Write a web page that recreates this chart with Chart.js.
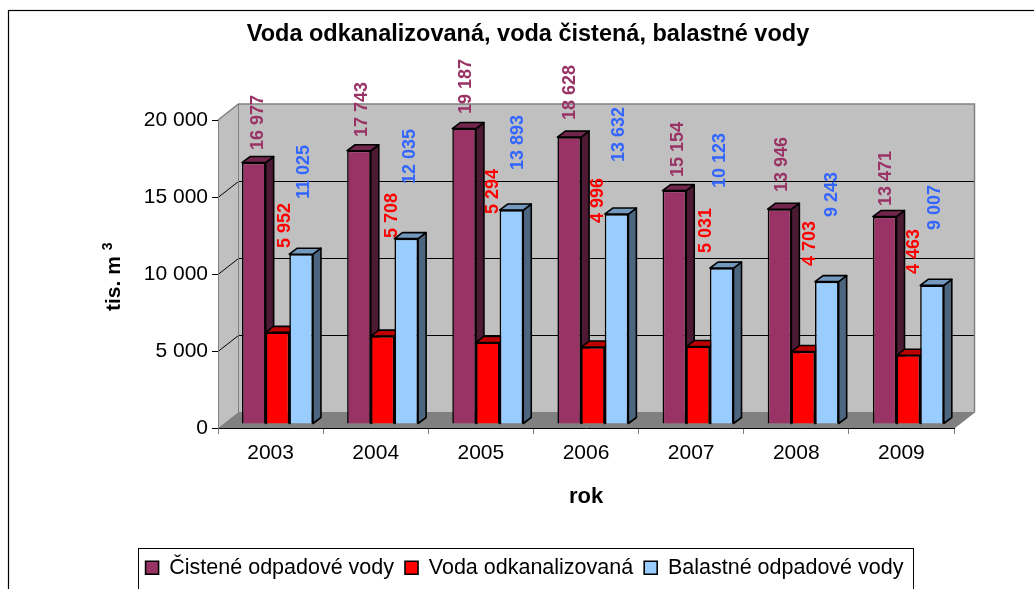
<!DOCTYPE html>
<html>
<head>
<meta charset="utf-8">
<script src="https://cdn.jsdelivr.net/npm/chart.js@4/dist/chart.umd.js"></script>
<style>html,body{margin:0;padding:0;background:#fff;overflow:hidden}canvas{display:block}</style>
</head>
<body>
<canvas id="c" width="1034" height="589"></canvas>
<script>
const categories = ['2003','2004','2005','2006','2007','2008','2009'];
const cisteneOdpadoveVody = [16977,17743,19187,18628,15154,13946,13471];
const vodaOdkanalizovana = [5952,5708,5294,4996,5031,4703,4463];
const balastneOdpadoveVody = [11025,12035,13893,13632,10123,9243,9007];
const seriesNames = ['Čistené odpadové vody','Voda odkanalizovaná','Balastné odpadové vody'];
const chartTitle = 'Voda odkanalizovaná, voda čistená, balastné vody';
const xTitle = 'rok';
const yTitle = 'tis. m';
const yTitleSup = '3';

// hand-placed data labels of the original: sideways shift and lift above the bar top
const labelShift = [
  [3.2,2,0.9,-0.3,2.6,1.5,0.3],
  [6.5,8.4,4.2,4.1,7,5.8,4.7],
  [1.9,2.7,5.6,1.5,-2.7,4.2,2]
];
const labelLift = [
  [12.6,13.8,14.5,17.1,13.6,17.2,10.5],
  [84.3,98.1,128.5,124.1,93.5,85.6,81.3],
  [55.2,54.7,40.1,52.1,80.1,64.7,55.3]
];

const FONT = '"Liberation Sans", Arial, sans-serif';
const fmt = v => String(v).replace(/\B(?=(\d{3})+$)/g, ' ');
const SHADES = [
  {side:'#4d1a33', top:'#73264d', label:'#993366'},
  {side:'#800000', top:'#bf0000', label:'#ff0000'},
  {side:'#4d6680', top:'#7399bf', label:'#3366ff'}
];
const WALL = {dx:20.5, dy:-16};
const BAR_OFF = {dx:6.9, dy:-4};
const DEPTH = {dx:8, dy:-6};
const BORDER = 1.6;

const threeD = {
  id:'threeD',
  afterLayout(chart){
    const t = chart.titleBlock; t.left = 22; t.right = 1034; t.top = 1;
    const l = chart.legend; l.left = 8; l.right = 1041; l.top = 546;
  },
  beforeDraw(chart){
    const c = chart.ctx;
    c.save();
    c.fillStyle = '#fff'; c.fillRect(0,0,1034,589);
    c.strokeStyle = '#000'; c.lineWidth = 1.2;
    c.strokeRect(8.5,10.5,1040,600);
    const y = chart.scales.y, x = chart.scales.x;
    const x0 = x.left, x1 = x.right, y0 = y.bottom, y1 = y.top;
    const {dx,dy} = WALL;
    // back wall
    c.fillStyle = '#c0c0c0';
    c.fillRect(x0+dx,y1+dy,x1-x0,y0-y1);
    // side wall
    c.beginPath(); c.moveTo(x0,y0); c.lineTo(x0,y1); c.lineTo(x0+dx,y1+dy); c.lineTo(x0+dx,y0+dy); c.closePath(); c.fill();
    // floor
    c.fillStyle = '#808080';
    c.beginPath(); c.moveTo(x0,y0); c.lineTo(x0+dx,y0+dy); c.lineTo(x1+dx,y0+dy); c.lineTo(x1,y0); c.closePath(); c.fill();
    // gridlines
    c.strokeStyle = '#000'; c.lineWidth = 1;
    y.ticks.forEach(t=>{
      if(t.value===0||t.value===y.max) return;
      const p = Math.round(y.getPixelForValue(t.value))+.5;
      c.beginPath(); c.moveTo(x0,p); c.lineTo(x0+dx,p+dy); c.lineTo(x1+dx,p+dy); c.stroke();
    });
    // wall outlines
    c.strokeStyle = '#808080'; c.lineWidth = 1.5;
    c.beginPath(); c.moveTo(x0,y1); c.lineTo(x0+dx,y1+dy); c.lineTo(x1+dx,y1+dy); c.lineTo(x1+dx,y0+dy); c.lineTo(x1,y0); c.stroke();
    c.lineWidth = 1;
    c.beginPath(); c.moveTo(x0+dx,y1+dy); c.lineTo(x0+dx,y0+dy); c.stroke();
    // legend box
    c.strokeStyle = '#000';
    c.strokeRect(138.5,548.5,775,60);
    c.restore();
  },
  beforeDatasetsDraw(chart){
    const c = chart.ctx;
    c.save();
    c.translate(BAR_OFF.dx,BAR_OFF.dy);
    // left to right within each cluster, so each front face covers the previous side face
    [0,1,2].forEach(i=>{
      const meta = chart.getDatasetMeta(i);
      meta.data.forEach(b=>{
        const p = b.getProps(['x','y','base','width'],true);
        const l = p.x-p.width/2, r = p.x+p.width/2;
        c.lineWidth = BORDER; c.strokeStyle = '#000'; c.lineJoin = 'round';
        c.fillStyle = SHADES[i].side;
        c.beginPath(); c.moveTo(r,p.y); c.lineTo(r+DEPTH.dx,p.y+DEPTH.dy); c.lineTo(r+DEPTH.dx,p.base+DEPTH.dy); c.lineTo(r,p.base); c.closePath(); c.fill(); c.stroke();
        c.fillStyle = SHADES[i].top;
        c.beginPath(); c.moveTo(l,p.y); c.lineTo(l+DEPTH.dx,p.y+DEPTH.dy); c.lineTo(r+DEPTH.dx,p.y+DEPTH.dy); c.lineTo(r,p.y); c.closePath(); c.fill(); c.stroke();
        b.draw(c);
      });
    });
    c.restore();
    return false;
  },
  afterDraw(chart){
    const c = chart.ctx;
    c.save();
    // data labels, rotated
    c.font = 'bold 18px '+FONT;
    c.textBaseline = 'middle'; c.textAlign = 'left';
    [0,1,2].forEach(i=>{
      chart.getDatasetMeta(i).data.forEach((b,j)=>{
        const p = b.getProps(['x','y'],true);
        const v = chart.data.datasets[i].data[j];
        c.save();
        c.translate(p.x+BAR_OFF.dx+labelShift[i][j]+1, p.y+BAR_OFF.dy-labelLift[i][j]);
        c.rotate(-Math.PI/2);
        c.fillStyle = SHADES[i].label;
        c.fillText(fmt(v),0,0);
        c.restore();
      });
    });
    // y axis title with raised exponent
    c.translate(120,311);
    c.rotate(-Math.PI/2);
    c.fillStyle = '#000'; c.textAlign = 'left'; c.textBaseline = 'alphabetic';
    c.font = 'bold 21px '+FONT;
    const w = c.measureText(yTitle).width;
    c.fillText(yTitle,0,0);
    c.font = 'bold 14px '+FONT;
    c.fillText(yTitleSup,w+6,-8);
    c.restore();
  }
};

new Chart(document.getElementById('c'),{
  type:'bar',
  data:{
    labels:categories,
    datasets:[
      {label:seriesNames[0],data:cisteneOdpadoveVody,backgroundColor:'#993366',borderColor:'#000',borderWidth:BORDER},
      {label:seriesNames[1],data:vodaOdkanalizovana,backgroundColor:'#ff0000',borderColor:'#000',borderWidth:BORDER},
      {label:seriesNames[2],data:balastneOdpadoveVody,backgroundColor:'#99ccff',borderColor:'#000',borderWidth:BORDER}
    ]
  },
  options:{
    responsive:false,
    animation:false,
    devicePixelRatio:1,
    events:[],
    layout:{padding:{left:0,right:80,top:0,bottom:0}},
    datasets:{bar:{categoryPercentage:0.675,barPercentage:1}},
    plugins:{
      tooltip:{enabled:false},
      title:{display:true,text:chartTitle,color:'#000',font:{family:FONT,size:23.5,weight:'bold'},padding:{top:19,bottom:72.8}},
      legend:{display:true,position:'bottom',onClick:null,
        labels:{color:'#000',font:{family:FONT,size:21.5},boxWidth:13,boxHeight:13,padding:11}}
    },
    scales:{
      x:{
        afterFit(s){ s.height = 161 - (s.chart.legend ? s.chart.legend.height : 0); },
        border:{color:'#000',width:1},
        grid:{offset:true,drawOnChartArea:false,drawTicks:true,tickLength:6,color:'#808080'},
        ticks:{color:'#000',font:{family:FONT,size:21},padding:7,maxRotation:0},
        title:{display:true,text:xTitle,color:'#000',font:{family:FONT,size:22,weight:'bold'},padding:{top:20,bottom:36}}
      },
      y:{
        min:0,max:20000,
        afterFit(s){ s.width = 218; },
        border:{color:'#808080',width:1},
        grid:{drawOnChartArea:false,tickLength:6,color:'#000'},
        ticks:{stepSize:5000,color:'#000',font:{family:FONT,size:21},padding:4,callback:v=>fmt(v)}
      }
    }
  },
  plugins:[threeD]
});
</script>
</body>
</html>
